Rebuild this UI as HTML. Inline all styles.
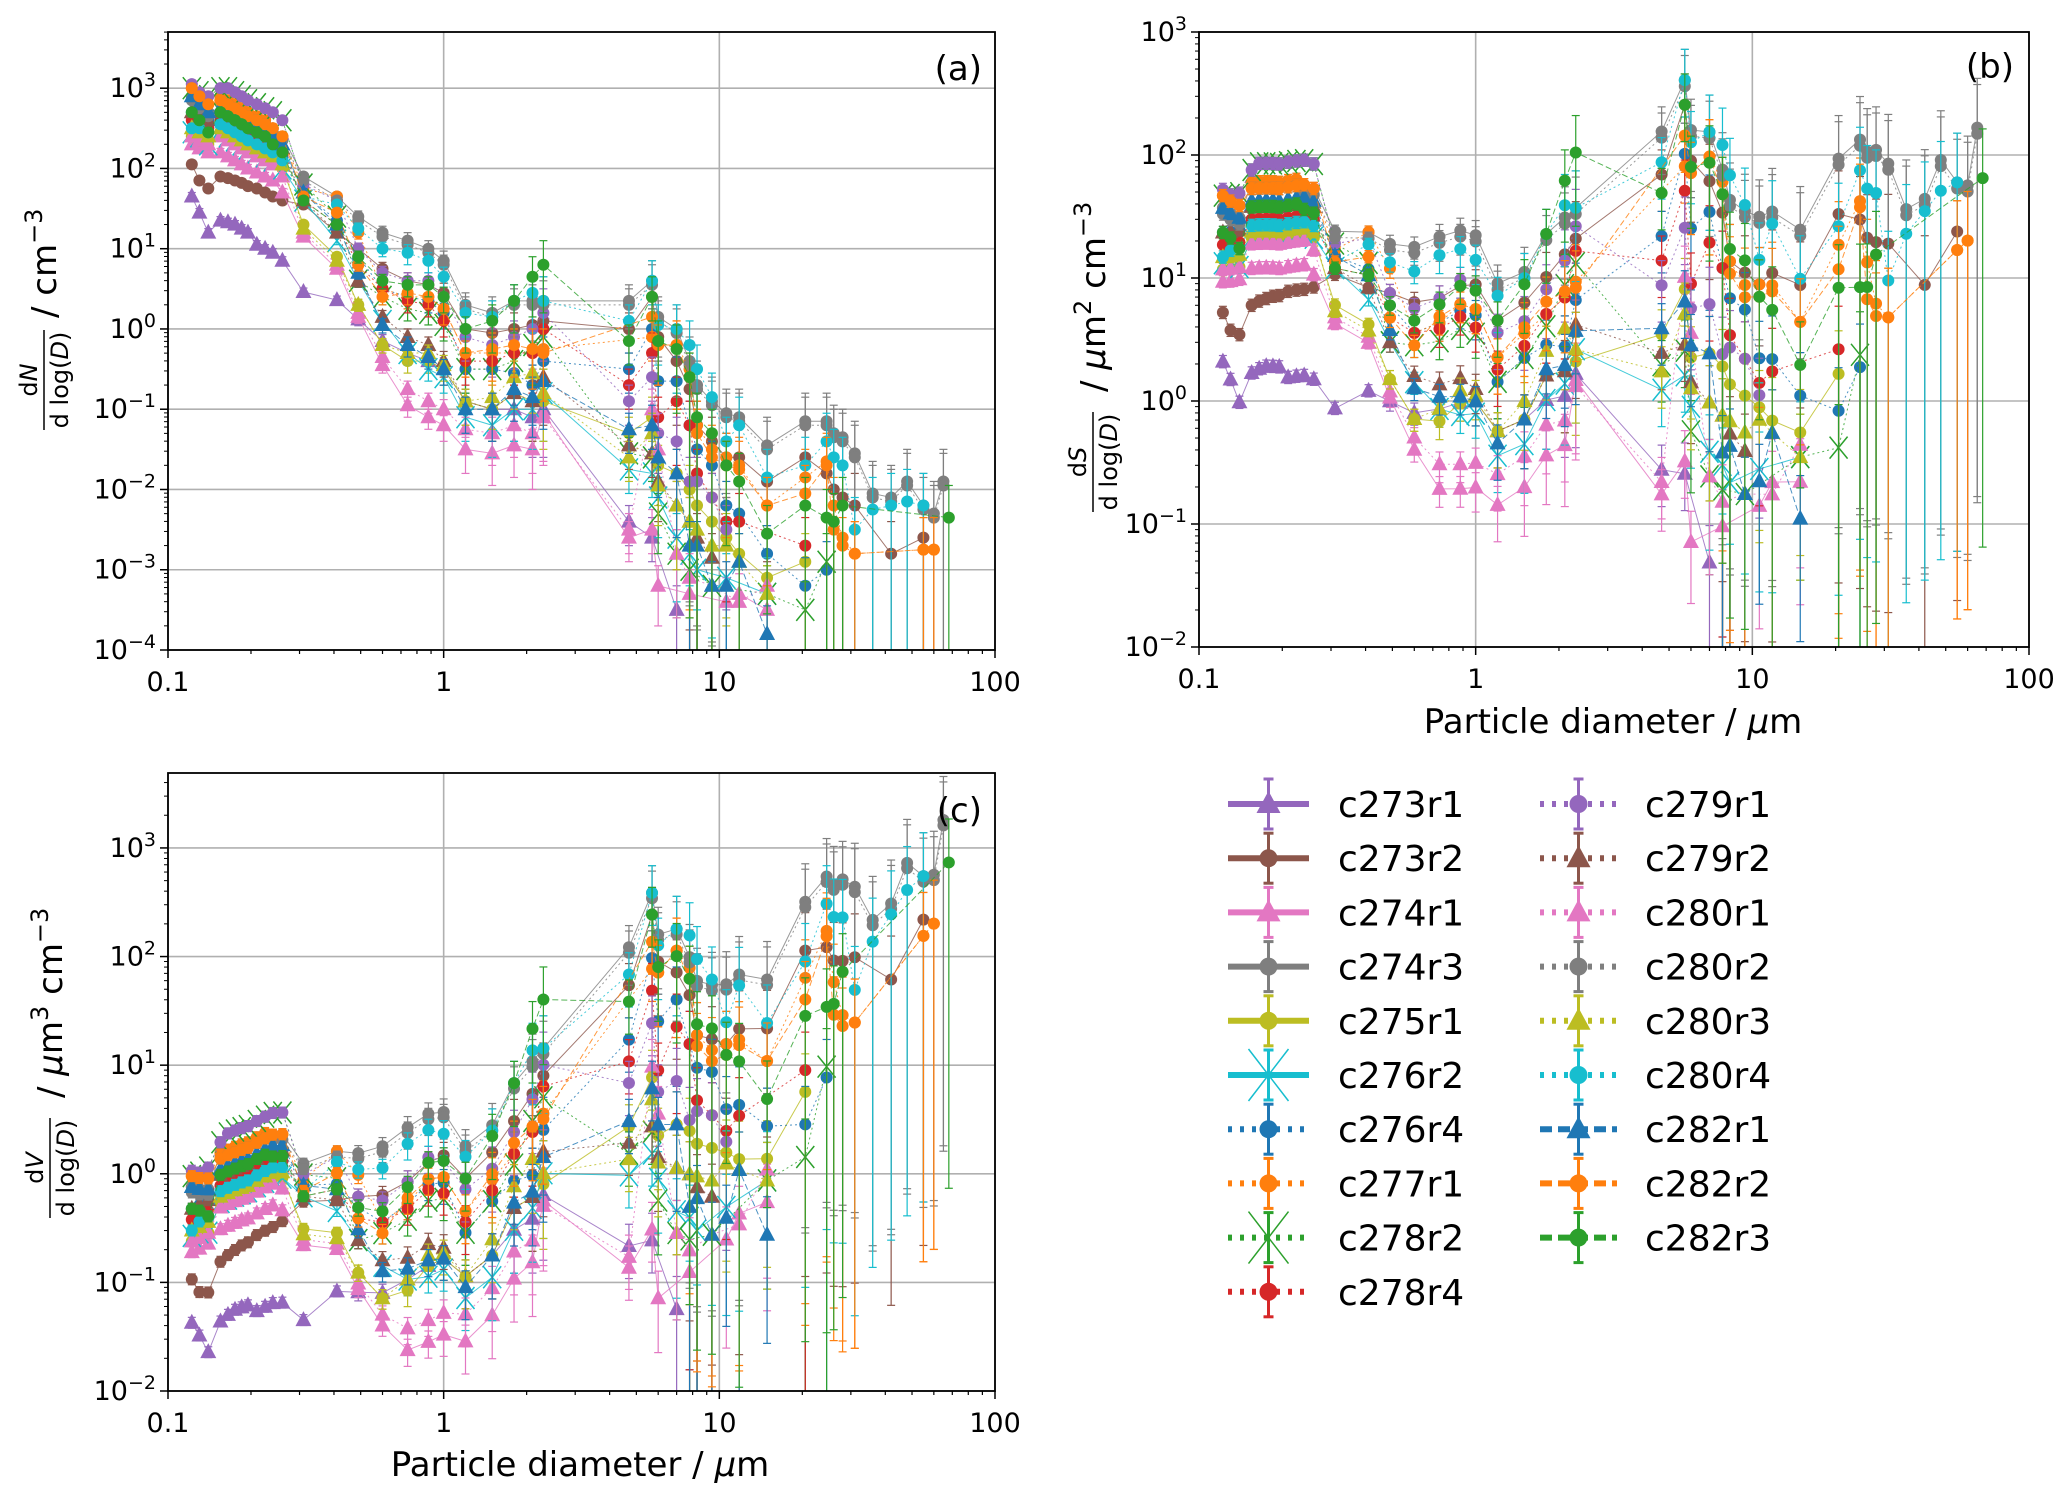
<!DOCTYPE html>
<html><head><meta charset="utf-8"><style>
html,body{margin:0;padding:0;background:#fff;overflow:hidden;}
svg{display:block;font-family:"DejaVu Sans","Liberation Sans",sans-serif;}
</style></head><body>
<svg id="fig" width="2067" height="1500" viewBox="0 0 2067 1500" xmlns="http://www.w3.org/2000/svg"></svg>
<script>
// ---- data ----
const diameters=[0.122,0.13,0.14,0.155,0.165,0.175,0.185,0.195,0.21,0.225,0.24,0.26,
0.31,0.41,0.49,0.6,0.74,0.88,1.0,1.2,1.5,1.8,2.1,2.3,
4.7,5.7,6.0,7.0,7.8,8.3,9.4,10.6,11.8,14.9,20.5,24.5,26,28,31,36,42,48,55,60,65,68];
const errLo=[0.05,0.05,0.05,0.05,0.05,0.05,0.05,0.05,0.05,0.05,0.05,0.05,
0.05,0.05,0.08,0.1,0.15,0.15,0.2,0.3,0.4,0.4,0.5,0.6,
0.3,0.3,0.5,0.8,3,3,3,1,3,1,3,3,3,3,3,3,3,3,3,3,3,3];
const errHi=[0.05,0.05,0.05,0.05,0.05,0.05,0.05,0.05,0.05,0.05,0.05,0.05,
0.05,0.05,0.07,0.08,0.1,0.1,0.12,0.15,0.2,0.2,0.25,0.3,
0.2,0.25,0.25,0.3,0.3,0.3,0.3,0.3,0.35,0.35,0.35,0.35,0.35,0.35,0.4,0.4,0.4,0.4,0.4,0.4,0.4,0.4];
const seriesNames=["c273r1","c273r2","c274r1","c274r3","c275r1","c276r2","c276r4","c277r1","c278r2","c278r4","c279r1","c279r2","c280r1","c280r2","c280r3","c280r4","c282r1","c282r2","c282r3"];
const seriesColors=["#9467bd","#8c564b","#e377c2","#7f7f7f","#bcbd22","#17becf","#1f77b4","#ff7f0e","#2ca02c","#d62728","#9467bd","#8c564b","#e377c2","#7f7f7f","#bcbd22","#17becf","#1f77b4","#ff7f0e","#2ca02c"];
const seriesMarkers=["^","o","^","o","o","x","o","o","x","o","o","^","^","o","^","o","^","o","o"];
const seriesStyles=["solid","solid","solid","solid","solid","solid","dot","dot","dot","dot","dot","dot","dot","dot","dot","dot","dash","dash","dash"];
const _=null;
// log10(dN/dlogD) per series, per diameter bin
const logN=[
[1.65,1.45,1.2,1.35,1.33,1.3,1.25,1.2,1.05,1.0,0.95,0.85, 0.46,0.36,0.12,-0.15,-0.3,-0.4,-0.5,-0.9,-1.0,-1.0,-1.1,-1.0, -2.4,-2.6,_,-3.5,_,_,_,_,_,_,_,_,_,_,_,_,_,_,_,_,_,_],
[2.05,1.85,1.75,1.9,1.88,1.85,1.82,1.78,1.75,1.7,1.65,1.6, 1.55,1.2,1.0,0.75,0.6,0.55,0.45,0.0,-0.05,0.0,0.05,0.1, 0.0,0.4,-0.1,-0.4,-0.75,-1.2,-1.4,-1.6,-1.6,-1.9,-1.6,-1.8,-2.0,-2.1,-2.2,_,-2.8,_,-2.6,_,_,_],
[2.3,2.25,2.2,2.2,2.15,2.1,2.05,2.0,1.95,1.9,1.85,1.7, 1.15,0.75,0.15,-0.45,-0.95,-1.1,-1.2,-1.5,-1.55,-1.45,-1.5,-1.05, -2.6,-2.5,-3.2,_,-3.3,_,_,-3.4,-3.3,-3.5,_,_,_,_,_,_,_,_,_,_,_,_],
[2.9,2.8,2.7,2.9,2.85,2.8,2.75,2.7,2.65,2.6,2.5,2.4, 1.9,1.65,1.4,1.2,1.1,1.0,0.85,0.3,0.2,0.35,0.35,0.35, 0.35,0.6,0.15,0.0,-0.4,-0.7,-0.9,-1.05,-1.1,-1.45,-1.15,-1.15,-1.3,-1.35,-1.55,-2.05,-2.1,-1.9,-2.2,-2.3,-1.9,_],
[2.4,2.35,2.3,2.45,2.4,2.35,2.3,2.25,2.2,2.15,2.1,2.0, 1.3,0.9,0.3,-0.2,-0.4,-0.4,-0.5,-0.9,-1.0,-0.8,-0.9,-0.9, -1.3,-1.1,-1.7,-1.8,-2.0,-2.2,-2.4,-2.6,-2.8,-3.1,-2.9,_,_,_,_,_,_,_,_,_,_,_],
[2.45,2.4,2.3,2.45,2.4,2.35,2.3,2.25,2.2,2.15,2.1,2.0, 1.6,1.1,0.6,0.1,-0.3,-0.5,-0.6,-1.1,-1.2,-1.0,-1.0,-0.8, -1.75,-1.8,-2.1,-2.6,-2.8,-3.0,_,-3.1,_,-3.3,_,_,_,_,_,_,_,_,_,_,_,_],
[2.7,2.65,2.6,2.7,2.65,2.6,2.55,2.5,2.45,2.4,2.35,2.25, 1.7,1.35,0.9,0.5,0.4,0.35,0.2,-0.5,-0.5,-0.55,-0.7,-0.4, -0.5,0.0,-0.65,-0.65,-1.2,-1.5,-1.7,-2.2,-2.3,-2.8,-3.2,-3.0,_,_,_,_,_,_,_,_,_,_],
[3.0,2.9,2.8,2.9,2.85,2.8,2.75,2.7,2.65,2.6,2.5,2.4, 1.75,1.65,1.2,0.5,0.4,0.4,0.25,-0.3,-0.3,-0.3,-0.3,-0.25, _,-0.1,-0.2,-0.2,-0.5,-1.2,-1.5,-1.6,-1.7,-2.2,-1.85,-1.65,-2.2,-2.6,-2.8,_,_,_,-2.75,-2.75,_,_],
[3.0,2.95,2.9,3.0,3.0,2.95,2.9,2.85,2.8,2.75,2.7,2.6, 1.8,1.4,0.6,0.4,0.25,0.2,0.05,-0.5,-0.5,-0.4,-0.2,-0.1, -1.55,-1.6,-2.3,-2.8,-3.0,_,-3.2,_,_,-3.3,-3.5,-2.9,_,_,_,_,_,_,_,_,_,_],
[2.6,2.55,2.5,2.6,2.55,2.5,2.45,2.4,2.35,2.3,2.25,2.15, 1.6,1.3,0.8,0.5,0.35,0.3,0.1,-0.4,-0.4,-0.3,-0.3,0.0, -0.7,-0.3,-1.1,-0.9,-1.2,-1.8,-2.1,-2.4,-2.4,_,-2.7,_,_,_,_,_,_,_,_,_,_,_],
[3.05,2.95,2.9,3.0,3.0,2.95,2.9,2.85,2.8,2.75,2.7,2.6, 1.8,1.6,1.0,0.7,0.6,0.6,0.4,-0.1,-0.2,-0.1,0.0,0.2, -0.9,-0.6,-1.3,-1.4,-1.9,-1.9,-2.1,-2.5,_,_,_,_,_,_,_,_,_,_,_,_,_,_],
[2.7,2.65,2.6,2.7,2.65,2.6,2.55,2.5,2.45,2.4,2.35,2.25, 1.6,1.2,0.6,0.15,-0.1,-0.2,-0.4,-0.9,-1.0,-0.8,-0.9,-0.6, -1.45,-1.55,-1.9,-2.2,-2.4,-2.6,-2.85,_,_,_,_,_,_,_,_,_,_,_,_,_,_,_],
[2.4,2.35,2.3,2.4,2.35,2.3,2.25,2.2,2.15,2.1,2.05,1.9, 1.2,0.8,0.2,-0.35,-0.75,-0.9,-1.0,-1.25,-1.3,-1.2,-1.3,-1.1, -2.5,-1.0,-1.5,-2.8,-3.1,_,-3.2,_,-3.4,-3.2,_,_,_,_,_,_,_,_,_,_,_,_],
[2.85,2.75,2.65,2.85,2.8,2.75,2.7,2.65,2.6,2.55,2.45,2.35, 1.85,1.6,1.35,1.15,1.05,0.95,0.8,0.25,0.15,0.3,0.3,0.3, 0.3,0.55,0.1,-0.05,-0.45,-0.75,-0.95,-1.1,-1.15,-1.5,-1.2,-1.2,-1.35,-1.4,-1.6,-2.1,-2.15,-1.95,-2.25,-2.35,-1.95,_],
[2.5,2.45,2.4,2.5,2.45,2.4,2.35,2.3,2.25,2.2,2.15,2.05, 1.25,0.85,0.3,-0.2,-0.3,-0.3,-0.45,-0.9,-0.85,-0.6,-0.55,-0.8, -1.6,-1.3,-1.95,-2.2,-2.4,-2.5,-2.7,-2.7,-2.9,-3.3,_,_,_,_,_,_,_,_,_,_,_,_],
[2.5,2.5,2.45,2.55,2.5,2.45,2.4,2.35,2.3,2.25,2.2,2.1, 1.65,1.55,1.25,1.0,0.95,0.85,0.65,0.2,0.15,0.35,0.45,0.35, 0.1,0.6,0.05,0.0,-0.2,-0.5,-0.85,-1.4,-1.2,-1.85,-1.7,-1.4,-1.6,-1.7,-2.5,-2.25,-2.2,-2.15,-2.2,_,_,_],
[2.9,2.8,2.7,2.75,2.7,2.65,2.6,2.55,2.5,2.45,2.4,2.3, 1.7,1.3,0.7,0.05,-0.2,-0.35,-0.5,-1.0,-1.0,-0.75,-0.85,-0.65, -1.25,-1.2,-1.6,-1.8,-2.7,-2.7,-3.2,-3.2,-2.9,-3.8,_,_,_,_,_,_,_,_,_,_,_,_],
[3.0,2.9,2.8,2.85,2.8,2.75,2.7,2.65,2.6,2.55,2.5,2.4, 1.65,1.45,0.8,0.4,0.45,0.4,0.25,-0.3,-0.25,-0.2,-0.25,-0.3, _,0.15,-0.2,-0.2,-0.6,-1.3,-1.6,-1.7,-1.75,-2.2,-2.05,-1.7,-2.5,-2.7,-2.8,_,_,_,-2.75,-2.75,_,_],
[2.7,2.6,2.45,2.7,2.65,2.6,2.55,2.5,2.45,2.4,2.3,2.2, 1.6,1.3,0.9,0.6,0.55,0.55,0.4,0.0,0.1,0.35,0.65,0.8, -0.15,0.4,-0.15,-0.25,-0.6,-1.1,-1.3,-1.7,-1.9,-2.55,-2.2,-2.35,-2.4,-2.2,_,_,_,_,_,_,_,-2.35]
];
const xTicks=[0.1,1,10,100];
const xTickLabels=["0.1","1","10","100"];

// ---- drawing ----
const NS="http://www.w3.org/2000/svg";
const svg=document.getElementById('fig');
function mk(tag,attrs,parent){const e=document.createElementNS(NS,tag);for(const k in attrs)e.setAttribute(k,attrs[k]);(parent||svg).appendChild(e);return e;}

const panels=[
 {id:"a",L:168,R:995,T:32,B:650,ymin:-4,ymax:3.7,kind:"N",label:"(a)",lx:982,ly:80},
 {id:"b",L:1199,R:2029,T:32,B:647,ymin:-2,ymax:3,kind:"S",label:"(b)",lx:2014,ly:78},
 {id:"c",L:168,R:995,T:773,B:1391,ymin:-2,ymax:3.69,kind:"V",label:"(c)",lx:982,ly:822}
];
function conv(kind,d){ if(kind==="N")return 0; if(kind==="S")return Math.log10(Math.PI*d*d); return Math.log10(Math.PI/6*d*d*d); }

panels.forEach(p=>{
 const xs=v=>p.L+(Math.log10(v)+1)/3*(p.R-p.L);
 const ys=lv=>p.B-(lv-p.ymin)/(p.ymax-p.ymin)*(p.B-p.T);
 const g=mk('g',{});
 
 
 const cp=mk('clipPath',{id:'clip'+p.id},g); mk('rect',{x:p.L,y:p.T,width:p.R-p.L,height:p.B-p.T},cp);
 xTicks.forEach(t=>{const l=mk('line',{x1:xs(t),x2:xs(t),y1:p.T,y2:p.B,stroke:'#b0b0b0','stroke-width':1.6},g);
  });
 for(let e=Math.ceil(p.ymin);e<=Math.floor(p.ymax);e++){const l=mk('line',{x1:p.L,x2:p.R,y1:ys(e),y2:ys(e),stroke:'#b0b0b0','stroke-width':1.6},g);
  }
 const dg=mk('g',{'clip-path':'url(#clip'+p.id+')'},g);
 logN.forEach((arr,si)=>{
  const col=seriesColors[si];
  const sg=mk('g',{},dg);
  
  
  const pts=[];
  arr.forEach((v,i)=>{ if(v===null)return; const lv=v+conv(p.kind,diameters[i]); pts.push([xs(diameters[i]),lv,i]); });
  let dash=seriesStyles[si]==="dot"?"2,3":(seriesStyles[si]==="dash"?"6,3":"none");
  const path=mk('polyline',{points:pts.map(q=>q[0]+','+ys(q[1])).join(' '),fill:'none',stroke:col,'stroke-width':1,'stroke-dasharray':dash,opacity:0.8},sg);
  
  
  pts.forEach(q=>{
   const x=q[0],y=ys(q[1]),y1=ys(q[1]-errLo[q[2]]),y2=ys(q[1]+errHi[q[2]]);
   mk('line',{x1:x,x2:x,y1:y1,y2:y2,stroke:col,'stroke-width':1.2},sg);
   mk('line',{x1:x-4,x2:x+4,y1:y1,y2:y1,stroke:col,'stroke-width':1.2},sg);
   mk('line',{x1:x-4,x2:x+4,y1:y2,y2:y2,stroke:col,'stroke-width':1.2},sg);
   let m;
   if(seriesMarkers[si]==="o") m=mk('circle',{cx:x,cy:y,r:6,fill:col},sg);
   else if(seriesMarkers[si]==="^") m=mk('polygon',{points:`${x},${y-9} ${x-8},${y+6} ${x+8},${y+6}`,fill:col},sg);
   else m=mk('path',{d:`M${x-9},${y-11}L${x+9},${y+11}M${x+9},${y-11}L${x-9},${y+11}`,stroke:col,'stroke-width':1.5,fill:'none'},sg);
   
   
  });
 });
 const fr=mk('rect',{x:p.L,y:p.T,width:p.R-p.L,height:p.B-p.T,fill:'none',stroke:'#000','stroke-width':1.8},g);
 
 xTicks.forEach((t,i)=>{
  mk('line',{x1:xs(t),x2:xs(t),y1:p.B,y2:p.B+8,stroke:'#000','stroke-width':1.5},g);
  const tx=mk('text',{x:xs(t),y:p.B+41,'font-size':27,'text-anchor':'middle',fill:'#000'},g);
  tx.textContent=xTickLabels[i];
  
 });
 for(let e=-1;e<2;e++)for(let k=2;k<10;k++){const x=xs(k*Math.pow(10,e));mk('line',{x1:x,x2:x,y1:p.B,y2:p.B+4,stroke:'#000','stroke-width':1.2},g);}
 for(let e=Math.ceil(p.ymin);e<=Math.floor(p.ymax);e++){
  mk('line',{x1:p.L-8,x2:p.L,y1:ys(e),y2:ys(e),stroke:'#000','stroke-width':1.5},g);
  const tx=mk('text',{x:p.L-12,y:ys(e)+9,'font-size':27,'text-anchor':'end',fill:'#000'},g);
  tx.innerHTML='10<tspan dy="-11" font-size="19">'+(e<0?'\u2212'+(-e):e)+'</tspan>';
  
  if(e<p.ymax)for(let k=2;k<10;k++){const lv=e+Math.log10(k);if(lv>p.ymax)break;mk('line',{x1:p.L-4,x2:p.L,y1:ys(lv),y2:ys(lv),stroke:'#000','stroke-width':1},g);}
 }
 const pl=mk('text',{x:p.lx,y:p.ly,'font-size':34,'text-anchor':'end',fill:'#000'},g);
 pl.textContent=p.label;
 
});

function ylab(name,bx,cy,q,rest,off){
 const g=mk('g',{transform:`translate(${bx},${cy}) rotate(-90)`});
 
 mk('text',{x:0,y:-7,'font-size':24,'text-anchor':'middle'},g).innerHTML='d<tspan font-style="italic">'+q+'</tspan>';
 mk('line',{x1:-50,x2:50,y1:0,y2:0,stroke:'#000','stroke-width':1.5},g);
 mk('text',{x:0,y:24,'font-size':24,'text-anchor':'middle'},g).innerHTML='d log(<tspan font-style="italic">D</tspan>)';
 mk('text',{x:off,y:12,'font-size':34,'text-anchor':'start'},g).innerHTML=rest;
}
ylab('y-axis-title-a',44,380,'N','/ cm<tspan dy="-14" font-size="24">\u22123</tspan>',62);
ylab('y-axis-title-b',1093,462,'S','/ <tspan font-style="italic">\u03bc</tspan>m<tspan dy="-14" font-size="24">2</tspan><tspan dy="14"> cm</tspan><tspan dy="-14" font-size="24">\u22123</tspan>',70);
ylab('y-axis-title-c',50,1168,'V','/ <tspan font-style="italic">\u03bc</tspan>m<tspan dy="-14" font-size="24">3</tspan><tspan dy="14"> cm</tspan><tspan dy="-14" font-size="24">\u22123</tspan>',70);
[[1613,733,'x-axis-title-b'],[580,1476,'x-axis-title-c']].forEach(a=>{
 const t=mk('text',{x:a[0],y:a[1],'font-size':34,'text-anchor':'middle'});
 t.innerHTML='Particle diameter / <tspan font-style="italic">\u03bc</tspan>m';
 
});

const lg=mk('g',{});

seriesNames.forEach((n,si)=>{
 const col=si<10?0:1, row=si<10?si:si-10;
 const x0=col?1540:1228, x1=col?1617:1309, tx=col?1645:1338, y=804+row*54.2;
 const e=mk('g',{},lg);
 
 const c=seriesColors[si];
 let dash=seriesStyles[si]==="dot"?"4,8":(seriesStyles[si]==="dash"?"12,6":"none");
 mk('line',{x1:x0,x2:x1,y1:y,y2:y,stroke:c,'stroke-width':6,'stroke-dasharray':dash},e);
 const xm=(x0+x1)/2;
 mk('line',{x1:xm,x2:xm,y1:y-25,y2:y+25,stroke:c,'stroke-width':3},e);
 mk('line',{x1:xm-5,x2:xm+5,y1:y-25,y2:y-25,stroke:c,'stroke-width':3},e);
 mk('line',{x1:xm-5,x2:xm+5,y1:y+25,y2:y+25,stroke:c,'stroke-width':3},e);
 if(seriesMarkers[si]==="o")mk('circle',{cx:xm,cy:y,r:9,fill:c},e);
 else if(seriesMarkers[si]==="^")mk('polygon',{points:`${xm},${y-13} ${xm-12},${y+9} ${xm+12},${y+9}`,fill:c},e);
 else mk('path',{d:`M${xm-20},${y-26}L${xm+20},${y+26}M${xm+20},${y-26}L${xm-20},${y+26}`,stroke:c,'stroke-width':1.5,fill:'none'},e);
 const t=mk('text',{x:tx,y:y+13,'font-size':36},e);t.textContent=n;
});
</script>
</body></html>
